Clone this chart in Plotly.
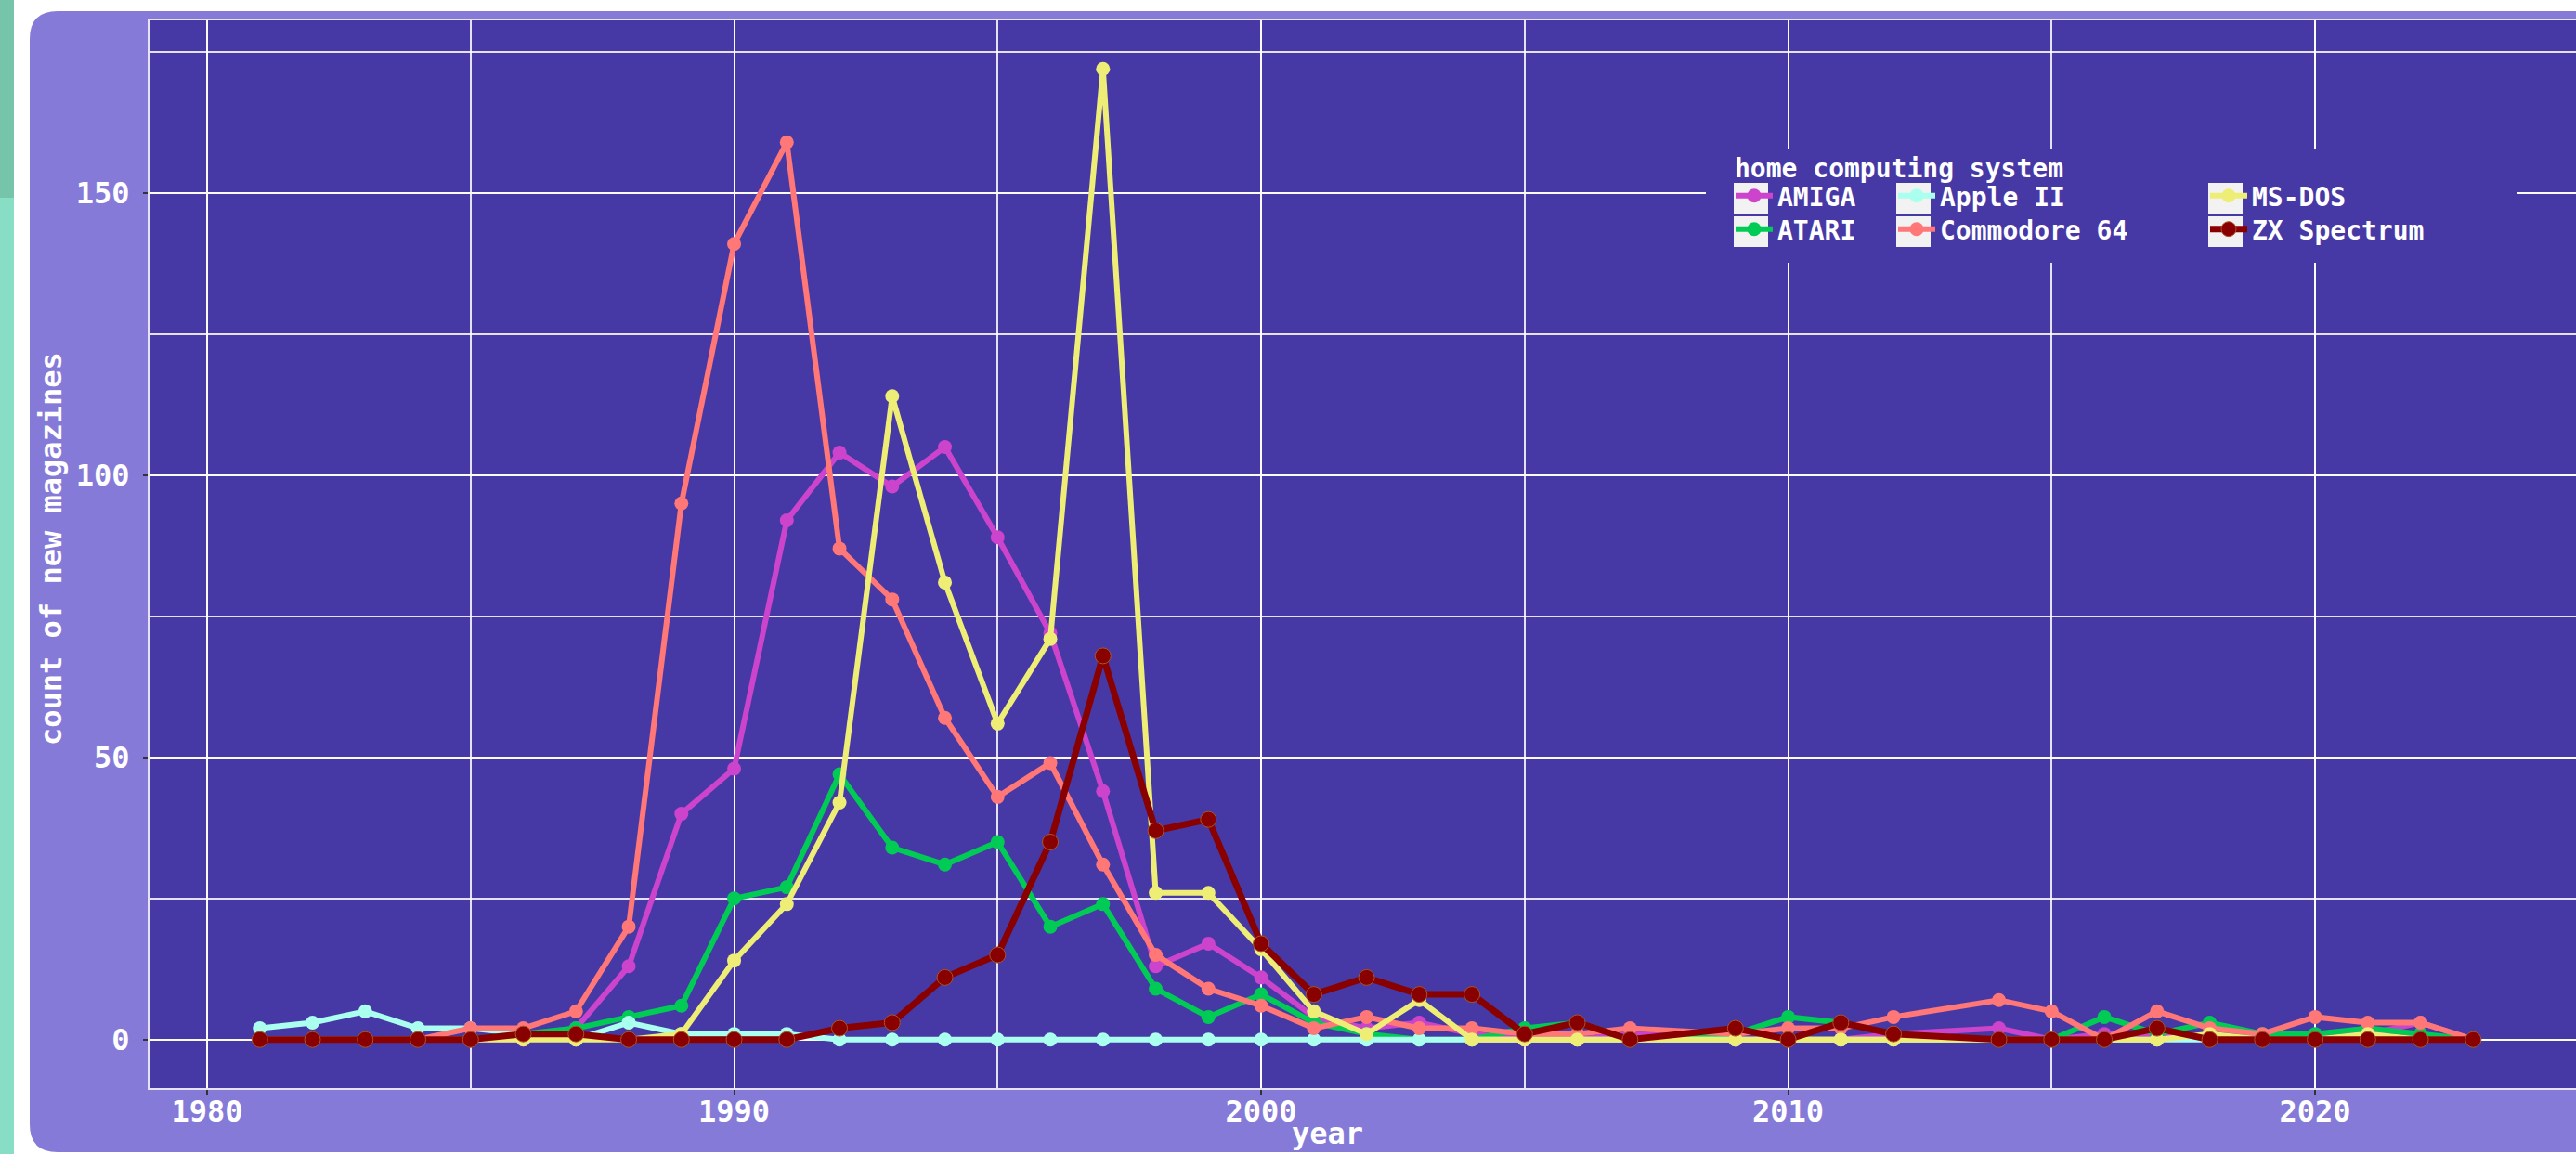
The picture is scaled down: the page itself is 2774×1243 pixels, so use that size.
import plotly.graph_objects as go

years = list(range(1981, 2008)) + [2009, 2010, 2011, 2012] + list(range(2014, 2024))

amiga = [0, 0, 0, 0, 0, 0, 2, 13, 40, 48, 92, 104, 98, 105, 89, 72, 44, 13, 17, 11, 4, 2, 3, 1, 0, 0, 1,
         0, 0, 0, 1,
         2, 0, 1, 1, 0, 0, 0, 1, 3, 0]
atari = [0, 0, 0, 0, 0, 1, 2, 4, 6, 25, 27, 47, 34, 31, 35, 20, 24, 9, 4, 8, 3, 1, 0, 0, 2, 3, 0,
         1, 4, 3, 1,
         0, 0, 4, 1, 3, 1, 1, 2, 1, 0]
apple2 = [2, 3, 5, 2, 2, 1, 0, 3, 1, 1, 1, 0, 0, 0, 0, 0, 0, 0, 0, 0, 0, 0, 0, 0, 0, 0, 0,
          0, 0, 0, 0,
          0, 0, 0, 0, 0, 0, 0, 0, 0, 0]
c64 = [0, 0, 0, 0, 2, 2, 5, 20, 95, 141, 159, 87, 78, 57, 43, 49, 31, 15, 9, 6, 2, 4, 2, 2, 1, 1, 2,
       1, 2, 2, 4,
       7, 5, 0, 5, 2, 1, 4, 3, 3, 0]
msdos = [0, 0, 0, 0, 0, 0, 0, 0, 1, 14, 24, 42, 114, 81, 56, 71, 172, 26, 26, 16, 5, 1, 7, 0, 0, 0, 0,
         0, 0, 0, 0,
         0, 0, 0, 0, 1, 0, 0, 1, 0, 0]
zx = [0, 0, 0, 0, 0, 1, 1, 0, 0, 0, 0, 2, 3, 11, 15, 35, 68, 37, 39, 17, 8, 11, 8, 8, 1, 3, 0,
      2, 0, 3, 1,
      0, 0, 0, 2, 0, 0, 0, 0, 0, 0]

series_names = ["AMIGA", "ATARI", "Apple II", "Commodore 64", "MS-DOS", "ZX Spectrum"]
series_values = [amiga, atari, apple2, c64, msdos, zx]
series_colors = ["#cc44cc", "#00cc55", "#aaffee", "#ff7777", "#eeee77", "#880000"]
legend_title = "home computing system"

x_ticks = [1980, 1990, 2000, 2010, 2020]
y_ticks = [0, 50, 100, 150]

W, H = 2774, 1243
ML, MR, MT, MB = 161, 0, 22, 71
PW = W - ML - MR
PH = H - MT - MB


def px(x):
    return (x - ML) / PW


def py(y):
    return (H - MB - y) / PH


FONT = "DejaVu Sans Mono"
FS = 32
LFS = 28
PANEL = "#867ad8"
PLOTBG = "#4739a5"
WHITE = "#ffffff"
GRID = "rgba(255,255,255,0.85)"

# legend grid: column key-box left edges and row centres (pixels)
col_left = [1867, 2042, 2378]
row_mid = [213, 249]
legend_ids = ["legend", "legend2", "legend3", "legend4", "legend5", "legend6"]
legend_slots = [(0, 0), (0, 1), (1, 0), (1, 1), (2, 0), (2, 1)]

fig = go.Figure()
for name, vals, col, lg in zip(series_names, series_values, series_colors, legend_ids):
    is_zx = name == "ZX Spectrum"
    fig.add_trace(go.Scatter(
        x=years, y=vals, name=name, mode="lines+markers", legend=lg,
        line=dict(color=col, width=7 if is_zx else 6),
        marker=dict(color=col, size=17 if is_zx else 15,
                    line=dict(color="#a8552a" if is_zx else col, width=1 if is_zx else 0)),
    ))

shapes = []
# left teal strip of the page
shapes.append(dict(type="rect", xref="paper", yref="paper", layer="below",
                   x0=px(0), x1=px(15), y0=py(0), y1=py(213), line_width=0, fillcolor="#76c4aa"))
shapes.append(dict(type="rect", xref="paper", yref="paper", layer="below",
                   x0=px(0), x1=px(15), y0=py(213), y1=py(1250), line_width=0, fillcolor="#88dec5"))
# rounded panel
r = 30
L0, T0, R0, B0 = 32, 12, 2820, 1241


def P(x, y):
    return f"{px(x):.6f},{py(y):.6f}"


path = (f"M {P(L0 + r, T0)} L {P(R0, T0)} L {P(R0, B0)} L {P(L0 + r, B0)} "
        f"Q {P(L0, B0)} {P(L0, B0 - r)} L {P(L0, T0 + r)} Q {P(L0, T0)} {P(L0 + r, T0)} Z")
shapes.append(dict(type="path", xref="paper", yref="paper", layer="below", path=path,
                   fillcolor=PANEL, line_width=0))
# plot background
shapes.append(dict(type="rect", xref="paper", yref="paper", layer="below",
                   x0=0, x1=1, y0=0, y1=1, line_width=0, fillcolor=PLOTBG))
# legend background
shapes.append(dict(type="rect", xref="paper", yref="paper", layer="above",
                   x0=px(1837), x1=px(2710), y0=py(283), y1=py(160), line_width=0, fillcolor=PLOTBG))
# legend key boxes
for bx in col_left:
    for rm in row_mid:
        shapes.append(dict(type="rect", xref="paper", yref="paper", layer="above",
                           x0=px(bx), x1=px(bx + 37), y0=py(rm + 17), y1=py(rm - 16), line_width=0,
                           fillcolor="#f2f2f2"))

annotations = [
    dict(text=legend_title, xref="paper", yref="paper", x=px(1866), y=py(182),
         xanchor="left", yanchor="middle", showarrow=False,
         font=dict(family=FONT, size=LFS, color=WHITE, weight="bold")),
    dict(text="count of new magazines", xref="paper", yref="paper", x=px(55), y=py(591),
         xanchor="center", yanchor="middle", showarrow=False, textangle=-90,
         font=dict(family=FONT, size=FS, color=WHITE, weight="bold")),
    dict(text="year", xref="paper", yref="paper", x=px(1429), y=py(1221),
         xanchor="center", yanchor="middle", showarrow=False,
         font=dict(family=FONT, size=FS, color=WHITE, weight="bold")),
]

legend_layouts = {}
for lg, (c, rr) in zip(legend_ids, legend_slots):
    legend_layouts[lg] = dict(
        x=px(col_left[c] - 3), y=py(row_mid[rr] - 2), xanchor="left", yanchor="middle",
        bgcolor="rgba(0,0,0,0)", borderwidth=0, orientation="v",
        tracegroupgap=0, itemwidth=40,
        font=dict(family=FONT, size=LFS, color=WHITE, weight="bold"),
    )

fig.update_layout(
    width=W, height=H,
    margin=dict(l=ML, r=MR, t=MT, b=MB, pad=0, autoexpand=False),
    paper_bgcolor="#ffffff",
    plot_bgcolor="rgba(0,0,0,0)",
    showlegend=True,
    shapes=shapes,
    annotations=annotations,
    xaxis=dict(
        range=[1978.907, 2024.95], tickmode="array", tickvals=x_ticks,
        ticktext=[str(v) for v in x_ticks], automargin=False,
        showgrid=True, gridcolor=GRID, gridwidth=2,
        minor=dict(dtick=5, tick0=1980, showgrid=True, gridcolor=GRID, gridwidth=1.5),
        zeroline=False, showline=True, linecolor="#e6e3f5", linewidth=2, mirror=True,
        ticks="outside", ticklen=5, tickwidth=2, tickcolor="#333333",
        ticklabelstandoff=-9,
        tickfont=dict(family=FONT, size=FS, color=WHITE, weight="bold"),
    ),
    yaxis=dict(
        range=[-8.6, 180.6], tickmode="array", tickvals=y_ticks,
        ticktext=[str(v) for v in y_ticks], automargin=False,
        showgrid=True, gridcolor=GRID, gridwidth=2,
        minor=dict(dtick=25, tick0=0, showgrid=True, gridcolor=GRID, gridwidth=1.5),
        zeroline=False, showline=True, linecolor="#e6e3f5", linewidth=2, mirror=False,
        ticks="outside", ticklen=5, tickwidth=2, tickcolor="#333333",
        ticklabelstandoff=8,
        tickfont=dict(family=FONT, size=FS, color=WHITE, weight="bold"),
    ),
    **legend_layouts,
)

fig.write_html("out.html", config={"displayModeBar": False},
               post_script="document.body.style.margin='0';document.body.style.overflow='hidden';")
